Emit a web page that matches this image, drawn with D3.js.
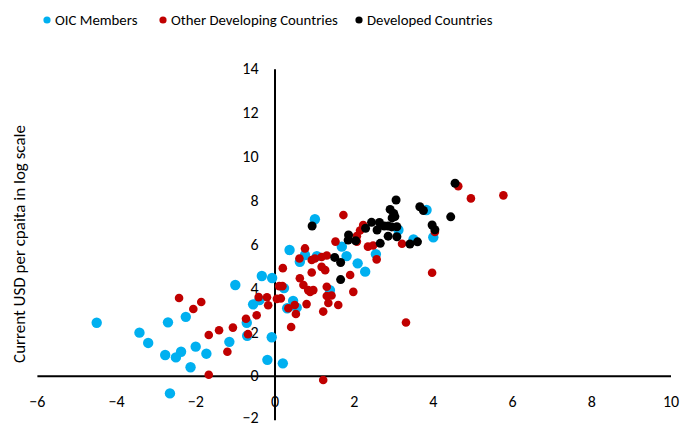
<!DOCTYPE html>
<html>
<head>
<meta charset="utf-8">
<script src="https://cdn.jsdelivr.net/npm/d3@7"></script>
<style>
  body { margin: 0; background: #fff; }
  svg { font-family: Calibri, Carlito, Lato, "Open Sans", sans-serif; }
</style>
</head>
<body>
<div id="chart"></div>
<script>

var seriesNames = ["OIC Members", "Other Developing Countries", "Developed Countries"];
var seriesColors = ["#00B0F0", "#C00000", "#000000"];

var xTicks = [-6, -4, -2, 0, 2, 4, 6, 8, 10];
var yTicks = [-2, 0, 2, 4, 6, 8, 10, 12, 14];

// [x, y] per country
var oicPoints = [
  [-4.49, 2.42], [-3.41, 1.97], [-3.19, 1.50], [-2.69, 2.44], [-2.24, 2.69],
  [-2.76, 0.95], [-2.49, 0.84], [-2.36, 1.10], [-1.99, 1.33], [-1.72, 1.01],
  [-2.12, 0.39], [-2.64, -0.80], [-1.14, 1.55], [-0.99, 4.14], [-0.70, 2.42],
  [-0.69, 1.83], [-0.54, 3.26], [-0.38, 3.46], [-0.32, 4.55], [-0.06, 4.46],
  [-0.07, 1.76], [-0.18, 0.73], [0.21, 0.57], [0.24, 4.00], [0.38, 5.74],
  [0.47, 3.42], [0.32, 3.08], [0.56, 3.11], [1.02, 7.14], [0.64, 5.20],
  [1.07, 5.46], [1.70, 5.89], [1.82, 5.46], [2.10, 5.13], [2.29, 4.75],
  [2.56, 5.55], [3.13, 6.65], [3.51, 6.22], [3.84, 7.56], [4.01, 6.32],
  [1.40, 3.91], [0.77, 5.51]
];

var otherPoints = [
  [-2.41, 3.55], [-1.85, 3.37], [-2.05, 3.05], [-1.66, 1.86], [-1.40, 2.08],
  [-1.05, 2.20], [-1.19, 1.10], [-1.66, 0.05], [-0.72, 2.60], [-0.45, 2.76],
  [-0.40, 3.59], [-0.67, 1.90], [-0.19, 3.58], [-0.16, 3.22], [0.06, 3.51],
  [0.16, 3.53], [0.12, 4.09], [0.20, 4.09], [0.21, 4.91], [0.42, 2.23],
  [0.35, 3.08], [0.54, 2.82], [0.51, 3.23], [0.63, 5.35], [0.77, 5.81],
  [0.94, 5.28], [0.94, 4.71], [1.02, 5.35], [1.19, 5.42], [1.32, 5.49],
  [1.19, 4.97], [1.28, 4.82], [0.64, 4.45], [0.73, 4.14], [0.85, 3.91],
  [0.98, 3.91], [1.32, 4.06], [1.32, 3.64], [1.44, 3.66], [1.36, 3.32],
  [1.23, 2.93], [0.81, 3.27], [1.54, 6.12], [1.23, -0.19], [1.74, 7.33],
  [2.16, 6.63], [2.08, 6.37], [2.08, 6.12], [2.36, 5.89], [2.49, 5.94],
  [2.58, 5.31], [3.22, 6.02], [1.91, 4.60], [1.99, 3.83], [3.32, 2.43],
  [1.61, 3.23], [2.24, 6.88], [4.05, 6.56], [4.64, 8.65], [4.96, 8.09],
  [5.78, 8.23], [3.98, 4.70], [0.90, 3.83]
];

var developedPoints = [
  [0.95, 6.83], [1.52, 5.40], [1.67, 5.17], [1.67, 4.39], [1.87, 6.42],
  [1.86, 6.19], [2.05, 6.16], [2.30, 6.73], [2.45, 7.00], [2.65, 6.99],
  [2.59, 6.65], [2.77, 6.83], [2.87, 6.83], [2.96, 6.79], [3.09, 6.80],
  [2.87, 6.37], [3.09, 6.34], [2.67, 6.04], [3.07, 8.02], [2.92, 7.59],
  [3.01, 7.40], [3.04, 7.26], [2.97, 7.20], [3.67, 7.71], [3.76, 7.54],
  [3.98, 6.88], [4.05, 6.66], [3.42, 6.01], [3.61, 6.11], [4.45, 7.25],
  [4.56, 8.78]
];

var width = 684, height = 426;

var svg = d3.select("#chart").append("svg")
  .attr("width", width)
  .attr("height", height);

var x = d3.scaleLinear().domain([-6, 10]).range([36.9, 670.5]);
var y = d3.scaleLinear().domain([-2, 14]).range([419.7, 68.8]);

// axes cross at zero
var xAxis = svg.append("g")
  .attr("transform", "translate(0," + y(0) + ")")
  .call(d3.axisBottom(x).tickValues(xTicks).tickSize(0).tickPadding(20));

var yAxis = svg.append("g")
  .attr("transform", "translate(" + x(0) + ",0)")
  .call(d3.axisLeft(y).tickValues(yTicks).tickSize(0).tickPadding(16));

[xAxis, yAxis].forEach(function(a) {
  a.select(".domain").attr("stroke", "#000").attr("stroke-width", 2);
  a.selectAll("text")
    .attr("fill", "#000")
    .style("font-size", "16px")
    .style("font-family", "Calibri, Carlito, Lato, sans-serif");
});

// keep the bottom label inside the frame
yAxis.selectAll(".tick text")
  .filter(function(d) { return d === -2; })
  .attr("dy", "0.2em");

svg.append("text")
  .attr("transform", "translate(25,244) rotate(-90)")
  .attr("text-anchor", "middle")
  .style("font-size", "17px")
  .text("Current USD per cpaita in log scale");

// draw order: OIC, other developing, developed on top
var allSeries = [oicPoints, otherPoints, developedPoints];
var radii = [5.2, 4.3, 4.5];

allSeries.forEach(function(pts, i) {
  svg.append("g")
    .selectAll("circle")
    .data(pts)
    .enter()
    .append("circle")
    .attr("cx", function(d) { return x(d[0]); })
    .attr("cy", function(d) { return y(d[1]); })
    .attr("r", radii[i])
    .attr("fill", seriesColors[i]);
});

// legend
var legendX = [47, 163, 359];
var legend = svg.append("g")
  .selectAll("g")
  .data(seriesNames)
  .enter()
  .append("g")
  .attr("transform", function(d, i) { return "translate(" + legendX[i] + ",20)"; });

legend.append("circle")
  .attr("r", 3.6)
  .attr("fill", function(d, i) { return seriesColors[i]; });

legend.append("text")
  .attr("x", 8)
  .attr("dy", "0.35em")
  .style("font-size", "14.8px")
  .text(function(d) { return d; });

</script>
</body>
</html>
